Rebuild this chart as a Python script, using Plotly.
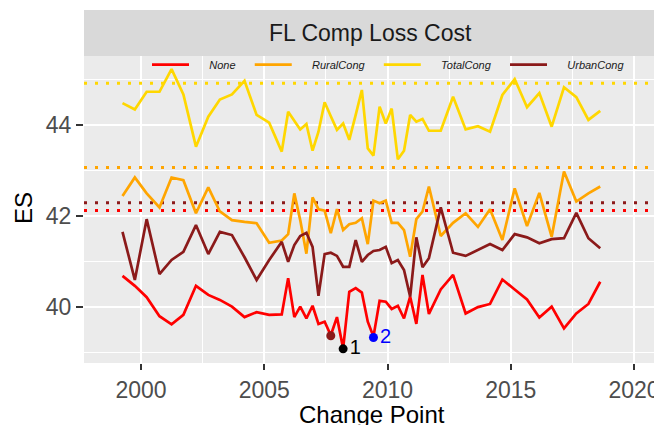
import plotly.graph_objects as go

# ---- data ----
change_point = [1999.25, 1999.75, 2000.23, 2000.75, 2001.24, 2001.72, 2002.23, 2002.73, 2003.2, 2003.69,
                2004.2, 2004.69, 2005.2, 2005.71, 2005.97, 2006.22, 2006.46, 2006.71, 2006.96, 2007.2,
                2007.45, 2007.7, 2007.95, 2008.2, 2008.45, 2008.71, 2008.96, 2009.2, 2009.43, 2009.68,
                2009.93, 2010.17, 2010.42, 2010.67, 2010.92, 2011.17, 2011.42, 2011.68, 2012.16, 2012.66,
                2013.17, 2013.67, 2014.16, 2014.66, 2015.16, 2015.66, 2016.16, 2016.66, 2017.16, 2017.66,
                2018.15, 2018.63]

es_none = [40.68, 40.46, 40.21, 39.79, 39.61, 39.82, 40.46, 40.26, 40.15, 40.00,
           39.77, 39.88, 39.82, 39.83, 40.63, 39.77, 40.00, 39.74, 40.02, 39.62,
           39.67, 39.37, 39.77, 39.08, 40.33, 40.41, 40.31, 39.67, 39.34, 40.13,
           40.11, 39.95, 40.02, 39.74, 40.22, 39.62, 40.70, 39.84, 40.38, 40.70,
           39.85, 39.99, 40.06, 40.60, 40.38, 40.16, 39.76, 40.00, 39.52, 39.85,
           40.06, 40.55]

es_rural = [42.44, 42.85, 42.50, 42.19, 42.85, 42.79, 42.06, 42.63, 42.10, 41.91,
            41.87, 41.84, 41.41, 41.46, 41.60, 42.50, 41.91, 41.17, 42.41, 42.15,
            42.12, 41.62, 42.15, 41.69, 41.82, 41.85, 41.95, 41.38, 42.34, 42.28,
            42.34, 41.85, 41.85, 41.69, 41.10, 41.93, 42.10, 42.65, 41.56, 41.85,
            42.06, 41.76, 42.15, 41.47, 42.61, 41.78, 42.51, 41.54, 42.98, 42.32,
            42.50, 42.65]

es_total = [44.49, 44.35, 44.74, 44.74, 45.24, 44.68, 43.53, 44.19, 44.57, 44.68,
            44.98, 44.23, 44.06, 43.42, 44.30, 44.10, 43.91, 44.03, 43.44, 43.86,
            44.51, 44.20, 43.90, 44.04, 43.68, 44.23, 44.78, 43.49, 43.33, 44.41,
            44.04, 44.37, 43.25, 43.44, 44.23, 44.08, 44.14, 43.88, 43.88, 44.63,
            43.91, 43.98, 43.86, 44.67, 45.02, 44.40, 44.71, 43.97, 44.84, 44.62,
            44.12, 44.32]

es_urban = [41.65, 40.59, 41.93, 40.72, 41.03, 41.21, 41.80, 41.16, 41.65, 41.58,
            41.09, 40.59, 41.03, 41.43, 40.99, 41.36, 41.56, 41.63, 41.32, 40.24,
            41.16, 41.19, 41.12, 40.88, 40.88, 41.47, 40.99, 41.14, 41.23, 41.25,
            41.32, 40.96, 41.03, 40.81, 40.22, 41.53, 40.87, 41.07, 42.19, 41.19,
            41.12, 41.26, 41.38, 41.25, 41.60, 41.53, 41.40, 41.49, 41.51, 42.07,
            41.51, 41.29]

series_names = ["None", "RuralCong", "TotalCong", "UrbanCong"]
series_colors = ["#FF0000", "#FFA500", "#FFD700", "#8B1A1A"]
series_values = [es_none, es_rural, es_total, es_urban]

ref_levels = [42.12, 43.07, 44.93, 42.29]   # dotted reference lines, one per series

cp_x = [2007.7, 2008.2, 2009.43]
cp_y = [39.36, 39.07, 39.32]
cp_colors = ["#8B1A1A", "#000000", "#0000FF"]
cp_labels = ["", "1", "2"]

x_ticks = [2000, 2005, 2010, 2015, 2020]
y_ticks = [40, 42, 44]
x_minor = [2002.5, 2007.5, 2012.5, 2017.5]
y_minor = [39, 41, 43, 45]

# ---- figure ----
# the page body adds an 8px margin, so the figure is drawn 8px smaller and
# all positions below are given in window pixels minus that offset
OFF = 8
W, H = 662 - OFF, 425 - OFF
ML, MR, MT, MB = 84 - OFF, 5, 56 - OFF, 62
PW = W - ML - MR
PH = H - MT - MB
FONT = "Liberation Sans, Arial, sans-serif"
X_RANGE = [1997.688, 2020.933]
Y_RANGE = [38.758, 45.529]


def px_x(xw):  # window x pixel -> paper x
    return (xw - OFF - ML) / PW


def px_y(yw):  # window y pixel -> paper y
    return 1 - (yw - OFF - MT) / PH


fig = go.Figure()

for lvl, col in zip(ref_levels, series_colors):
    fig.add_trace(go.Scatter(x=X_RANGE, y=[lvl, lvl], mode="lines",
                             line=dict(color=col, width=3, dash="3px,8px"),
                             showlegend=False, hoverinfo="skip"))

for name, col, vals in zip(series_names, series_colors, series_values):
    fig.add_trace(go.Scatter(
        x=change_point, y=vals, mode="lines", name="\u00a0" * 5 + name + "\u00a0" * 3,
        line=dict(color=col, width=2.7), showlegend=True))

fig.add_trace(go.Scatter(
    x=cp_x, y=cp_y, mode="markers+text", text=cp_labels, textposition="middle right",
    marker=dict(color=cp_colors, size=9),
    textfont=dict(color=cp_colors, size=20, family=FONT),
    showlegend=False))

# strip
fig.add_shape(type="rect", xref="paper", yref="paper", x0=0, x1=1, y0=1, y1=px_y(10),
              fillcolor="#D9D9D9", line=dict(width=0))
fig.add_annotation(text="FL Comp Loss Cost", xref="paper", yref="paper", x=0.5, y=px_y(33),
                   showarrow=False, xanchor="center", yanchor="middle",
                   font=dict(size=23, color="#1A1A1A", family=FONT))

# axis titles
fig.add_annotation(text="Change Point", xref="paper", yref="paper", x=px_x(372),
                   y=px_y(414), showarrow=False, xanchor="center", yanchor="middle",
                   font=dict(size=24, color="#000000", family=FONT))
fig.add_annotation(text="ES", xref="paper", yref="paper", x=px_x(23),
                   y=px_y(208), showarrow=False, xanchor="center", yanchor="middle",
                   textangle=-90, font=dict(size=24, color="#000000", family=FONT))

fig.update_layout(
    width=W, height=H,
    margin=dict(l=ML, r=MR, t=MT, b=MB, pad=0, autoexpand=False),
    paper_bgcolor="#FFFFFF", plot_bgcolor="#EBEBEB",
    font=dict(family=FONT),
    showlegend=True,
    legend=dict(orientation="h", x=px_x(147), xanchor="left",
                y=px_y(64.6), yanchor="middle", bgcolor="rgba(0,0,0,0)",
                itemwidth=37, traceorder="normal",
                font=dict(size=11, color="#1A1A1A", family=FONT, style="italic")),
    xaxis=dict(range=X_RANGE, tickvals=x_ticks, ticktext=[str(v) for v in x_ticks],
               showgrid=True, gridcolor="#FFFFFF", gridwidth=2, zeroline=False,
               ticks="outside", ticklen=6, tickwidth=2, tickcolor="#333333",
               tickfont=dict(size=23, color="#4D4D4D"),
               minor=dict(tickvals=x_minor, showgrid=True, gridcolor="#FFFFFF", gridwidth=1),
               showline=False, fixedrange=True, automargin=False),
    yaxis=dict(range=Y_RANGE, tickvals=y_ticks, ticktext=[str(v) for v in y_ticks],
               showgrid=True, gridcolor="#FFFFFF", gridwidth=2, zeroline=False,
               ticks="outside", ticklen=7, tickwidth=2, tickcolor="#333333",
               tickfont=dict(size=23, color="#4D4D4D"),
               minor=dict(tickvals=y_minor, showgrid=True, gridcolor="#FFFFFF", gridwidth=1),
               showline=False, fixedrange=True, automargin=False),
)

fig.write_html("out.html")
